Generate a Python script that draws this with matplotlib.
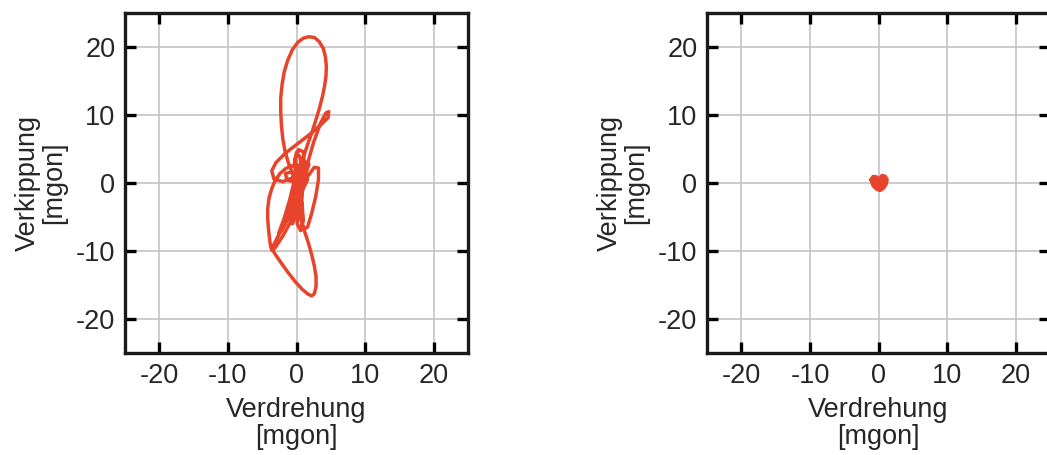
""" Verdrehung / Verkippung trajectories, two panels """

import matplotlib.pyplot as plt

plt.rcParams["font.family"] = ["Liberation Sans", "DejaVu Sans"]

TICKS = [-20, -10, 0, 10, 20]
LIMITS = (-25, 25)

# left panel: traced trajectory (Verdrehung, Verkippung) in mgon
left_x = [
    # big upper loop
    0.2, -0.6, -1.2, -1.7, -2.0, -2.2, -2.3, -2.3, -2.1, -1.8, -1.3, -0.6, 0.2,
    1.0, 1.8, 2.6, 3.3, 3.9, 4.2, 4.35, 4.3, 4.1, 3.8, 3.4, 2.9, 2.3, 1.6, 1.0,
    0.5, -0.2, -0.8, -1.2,
    # narrow loop up to the right
    -0.6, 0.2, 0.8, 1.5, 2.5, 3.5, 4.3, 4.7, 4.6, 3.6, 2.0, 0.2, -1.6, -3.0,
    -3.6, -3.3, -2.0, -0.5, 0.5,
    # left lobe
    0.0, -0.8, -1.6, -2.4, -3.1, -3.6, -4.0, -4.2, -4.2, -4.1, -3.95, -3.8,
    -3.6, -3.1, -2.0, -0.8, 0.2, 1.0, 1.6,
    # lower loop
    1.0, 0.0, -1.2, -2.5, -3.6, -3.1, -2.2, -1.2, -0.2, 0.8, 1.6, 2.2, 2.6,
    2.85, 2.85, 2.6, 2.2, 1.7, 1.2, 0.7, 0.3,
    # right narrow loop
    0.6, 1.5, 2.6, 3.2, 3.2, 2.8, 2.2, 1.6, 1.0, 0.6, 0.8,
    # central knots
    0.2, -0.2, 0.3, 1.0, 1.1, 0.6, -0.3, -1.4, -1.6, -0.8, 0.2, 0.8, 0.6, -0.2,
    -0.8, -0.6, 0.4, 1.2, 1.4, 0.9, 0.2, -0.4, -1.0, -1.8, -2.6, -2.2, -1.0,
    0.0, 0.6, 1.4, 1.8, 1.3, 0.4, -0.4, -0.2, 0.4, 0.9, 0.5, 0.0, -0.3, 0.0,
    0.3, 0.1, 0.6, 1.0, 0.8, 0.2,
]
left_y = [
    -1.0, 1.5, 3.0, 4.8, 6.5, 8.5, 10.5, 12.5, 14.5, 16.3, 18.0, 19.6, 20.7,
    21.3, 21.5, 21.4, 20.8, 19.8, 18.6, 17.2, 15.8, 14.3, 12.8, 11.2, 9.5, 7.6,
    5.6, 3.8, 2.2, 0.2, -2.5, -5.0,
    -6.0, -4.0, -1.0, 2.5, 6.0, 8.8, 10.3, 10.5, 9.6, 8.6, 7.2, 5.8, 4.4, 3.0,
    1.8, 0.6, 0.2, 0.8, 1.8,
    2.5, 2.5, 2.1, 1.4, 0.4, -0.8, -2.2, -3.8, -5.2, -6.6, -8.0, -9.2, -9.9,
    -9.5, -7.8, -5.6, -3.2, -0.8, 0.5,
    0.0, -2.5, -5.0, -7.5, -9.6, -10.5, -11.8, -13.2, -14.5, -15.6, -16.3,
    -16.6, -16.3, -15.2, -13.8, -12.2, -10.5, -8.7, -7.2, -5.5, -4.0,
    -1.5, 0.8, 2.3, 2.2, 0.5, -2.0, -4.5, -6.5, -6.8, -5.0, -2.0,
    1.5, 3.5, 4.9, 4.6, 3.0, 1.0, 0.2, 0.4, 1.4, 1.6, 0.6, -1.2, -3.2, -4.5,
    -3.5, -1.5, 0.2, 1.8, 3.0, 3.4, 2.2, 0.0, -2.5, -5.2, -7.4, -7.0, -4.8,
    -2.6, -0.6, 1.5, 2.8, 2.0, -0.2, -2.0, -3.5, -2.0, 0.6, 3.8, 4.5, 3.0, 0.5,
    -1.5, -6.0, -7.0, -5.5, -3.0, -0.5,
]

# right panel: small blob around the origin
right_x = [-1.1, -0.8, -0.3, 0.1, 0.5, 0.95, 1.25, 1.1, 0.7, 0.2, -0.3, -0.8,
           -1.1, -0.3, 0.5, 0.2, -0.2, 0.6, 0.1]
right_y = [0.5, 0.95, 0.9, 0.6, 1.1, 1.0, 0.5, -0.2, -0.8, -1.1, -0.9, -0.4,
           0.5, 0.2, 0.4, -0.4, 0.4, 0.2, 0.0]

LINE_COLOR = "#e8442c"
TEXT_COLOR = "#262626"


def style_axes(ax):
    """square axes with inward ticks on all sides and grey grid"""
    ax.set_xlim(*LIMITS)
    ax.set_ylim(*LIMITS)
    ax.set_xticks(TICKS)
    ax.set_yticks(TICKS)
    ax.set_xticklabels([str(t) for t in TICKS])
    ax.set_yticklabels([str(t) for t in TICKS])
    ax.grid(True, color="#c4c4c4", linewidth=1.2)
    ax.set_axisbelow(True)
    ax.tick_params(direction="in", length=8, width=2.4, top=True, right=True,
                   labelsize=19.5, labelcolor=TEXT_COLOR, pad=7)
    for sp in ax.spines.values():
        sp.set_linewidth(2.4)
        sp.set_color("#1a1a1a")
    ax.set_xlabel("Verdrehung\n[mgon]", fontsize=19.5, color=TEXT_COLOR,
                  labelpad=6, linespacing=1.05)
    ax.set_ylabel("Verkippung\n[mgon]", fontsize=19.5, color=TEXT_COLOR,
                  labelpad=6, linespacing=1.05)


fig = plt.figure(figsize=(10.47, 4.55), dpi=100)

ax1 = fig.add_axes([0.1194, 0.2242, 0.3276, 0.7473])
ax1.plot(left_x, left_y, color=LINE_COLOR, linewidth=2.5,
         solid_joinstyle="round")
style_axes(ax1)

ax2 = fig.add_axes([0.6753, 0.2242, 0.3276, 0.7473])
ax2.fill(right_x, right_y, color=LINE_COLOR)
ax2.plot(right_x, right_y, color=LINE_COLOR, linewidth=2.5,
         solid_joinstyle="round")
style_axes(ax2)

fig.savefig("out.png", dpi=100)
